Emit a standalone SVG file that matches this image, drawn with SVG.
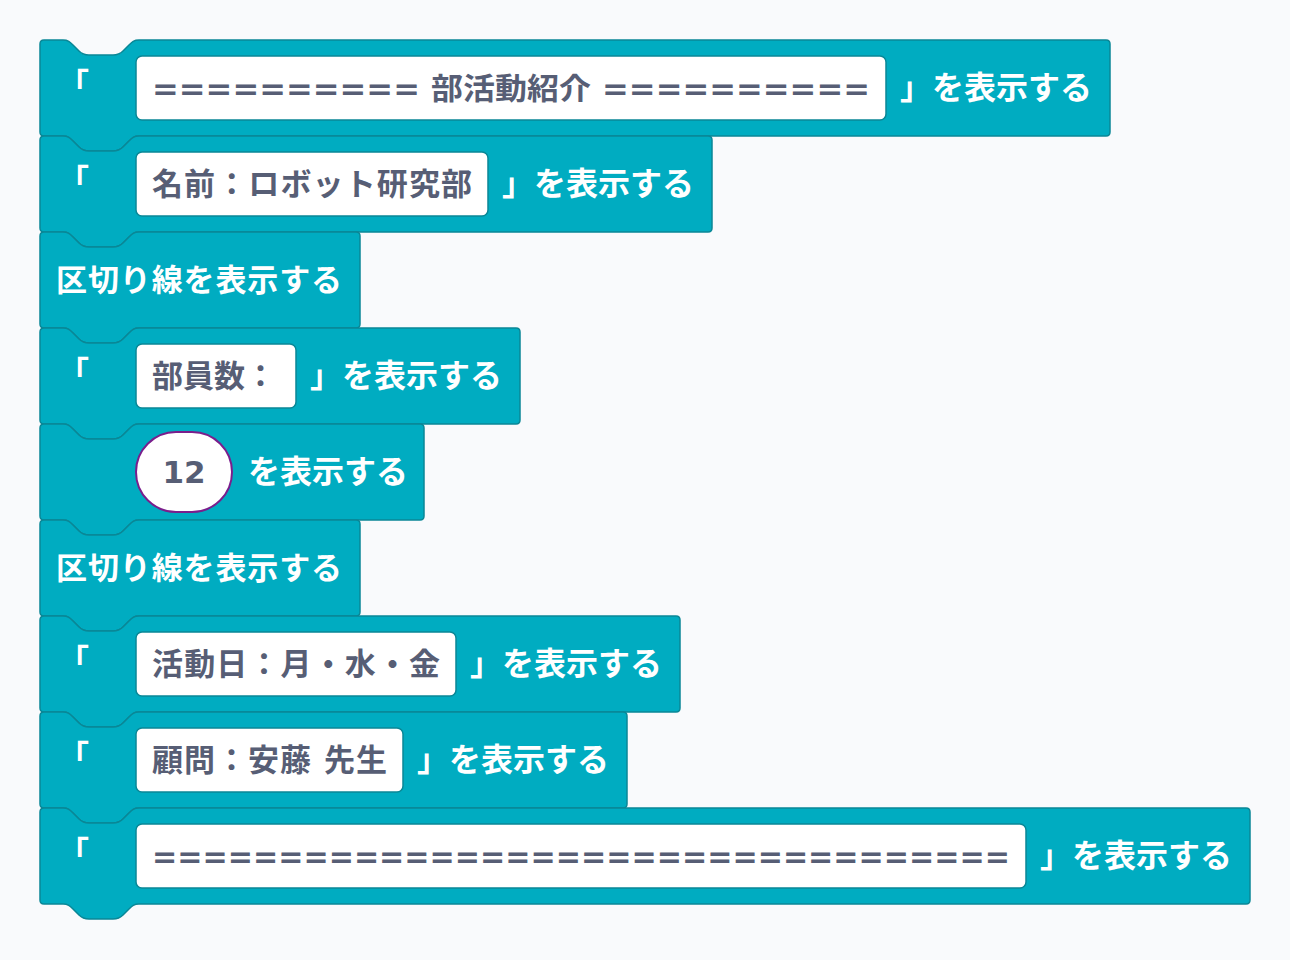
<svg xmlns="http://www.w3.org/2000/svg" width="1290" height="960" viewBox="0 0 1290 960">
<style>
.b{fill:#00ACC1;stroke:#0A8796;stroke-width:1.5}
.in{fill:#fff;stroke:#0A8796;stroke-width:1.5}
.t{font-family:"DejaVu Sans","Noto Sans CJK JP",sans-serif;font-weight:bold;font-size:31px}
.s{font-size:32px}
.w{fill:#fff}
.d{fill:#575E75}
.e{font-size:30px}
</style>
<rect width="1290" height="960" fill="#F9FAFC"/>
<g id="connectors"></g>
<g id="b1"><path class="b" d="M40,44 Q40,40 44,40 H63 C68,40 70,42 73,45 L79,51 C82,54 84,55 89,55 H113 C118,55 120,54 123,51 L129,45 C132,42 134,40 139,40 H1106 Q1110,40 1110,44 V132 Q1110,136 1106,136 H139 C134,136 132,138 129,141 L123,147 C120,150 118,151 113,151 H89 C84,151 82,150 79,147 L73,141 C70,138 68,136 63,136 H44 Q40,136 40,132 Z"/>
<text class="t w" x="58" y="95">「</text><rect class="in" x="136" y="56" width="750" height="64" rx="6"/>
<text class="t d e" x="152" y="99" textLength="718" lengthAdjust="spacingAndGlyphs">========== 部活動紹介 ==========</text>
<text class="t w s" x="900" y="99">」を表示する</text></g>
<g id="b2"><path class="b" d="M40,140 Q40,136 44,136 H63 C68,136 70,138 73,141 L79,147 C82,150 84,151 89,151 H113 C118,151 120,150 123,147 L129,141 C132,138 134,136 139,136 H708 Q712,136 712,140 V228 Q712,232 708,232 H139 C134,232 132,234 129,237 L123,243 C120,246 118,247 113,247 H89 C84,247 82,246 79,243 L73,237 C70,234 68,232 63,232 H44 Q40,232 40,228 Z"/>
<text class="t w" x="58" y="191">「</text><rect class="in" x="136" y="152" width="352" height="64" rx="6"/>
<text class="t d" x="152" y="195" textLength="320">名前：ロボット研究部</text>
<text class="t w s" x="502" y="195">」を表示する</text></g>
<g id="b3"><path class="b" d="M40,236 Q40,232 44,232 H63 C68,232 70,234 73,237 L79,243 C82,246 84,247 89,247 H113 C118,247 120,246 123,243 L129,237 C132,234 134,232 139,232 H356 Q360,232 360,236 V324 Q360,328 356,328 H139 C134,328 132,330 129,333 L123,339 C120,342 118,343 113,343 H89 C84,343 82,342 79,339 L73,333 C70,330 68,328 63,328 H44 Q40,328 40,324 Z"/>
<text class="t w" x="56" y="291" textLength="286">区切り線を表示する</text></g>
<g id="b4"><path class="b" d="M40,332 Q40,328 44,328 H63 C68,328 70,330 73,333 L79,339 C82,342 84,343 89,343 H113 C118,343 120,342 123,339 L129,333 C132,330 134,328 139,328 H516 Q520,328 520,332 V420 Q520,424 516,424 H139 C134,424 132,426 129,429 L123,435 C120,438 118,439 113,439 H89 C84,439 82,438 79,435 L73,429 C70,426 68,424 63,424 H44 Q40,424 40,420 Z"/>
<text class="t w" x="58" y="383">「</text><rect class="in" x="136" y="344" width="160" height="64" rx="6"/>
<text class="t d" x="152" y="387">部員数：</text>
<text class="t w s" x="310" y="387">」を表示する</text></g>
<g id="b5"><path class="b" d="M40,428 Q40,424 44,424 H63 C68,424 70,426 73,429 L79,435 C82,438 84,439 89,439 H113 C118,439 120,438 123,435 L129,429 C132,426 134,424 139,424 H420 Q424,424 424,428 V516 Q424,520 420,520 H139 C134,520 132,522 129,525 L123,531 C120,534 118,535 113,535 H89 C84,535 82,534 79,531 L73,525 C70,522 68,520 63,520 H44 Q40,520 40,516 Z"/>
<rect x="136" y="432" width="96" height="80" rx="40" fill="#fff" stroke="#7A1E8C" stroke-width="2"/>
<text class="t d" x="184" y="483" text-anchor="middle">12</text>
<text class="t w s" x="248" y="483">を表示する</text></g>
<g id="b6"><path class="b" d="M40,524 Q40,520 44,520 H63 C68,520 70,522 73,525 L79,531 C82,534 84,535 89,535 H113 C118,535 120,534 123,531 L129,525 C132,522 134,520 139,520 H356 Q360,520 360,524 V612 Q360,616 356,616 H139 C134,616 132,618 129,621 L123,627 C120,630 118,631 113,631 H89 C84,631 82,630 79,627 L73,621 C70,618 68,616 63,616 H44 Q40,616 40,612 Z"/>
<text class="t w" x="56" y="579" textLength="286">区切り線を表示する</text></g>
<g id="b7"><path class="b" d="M40,620 Q40,616 44,616 H63 C68,616 70,618 73,621 L79,627 C82,630 84,631 89,631 H113 C118,631 120,630 123,627 L129,621 C132,618 134,616 139,616 H676 Q680,616 680,620 V708 Q680,712 676,712 H139 C134,712 132,714 129,717 L123,723 C120,726 118,727 113,727 H89 C84,727 82,726 79,723 L73,717 C70,714 68,712 63,712 H44 Q40,712 40,708 Z"/>
<text class="t w" x="58" y="671">「</text><rect class="in" x="136" y="632" width="320" height="64" rx="6"/>
<text class="t d" x="152" y="675" textLength="288">活動日：月・水・金</text>
<text class="t w s" x="470" y="675">」を表示する</text></g>
<g id="b8"><path class="b" d="M40,716 Q40,712 44,712 H63 C68,712 70,714 73,717 L79,723 C82,726 84,727 89,727 H113 C118,727 120,726 123,723 L129,717 C132,714 134,712 139,712 H623 Q627,712 627,716 V804 Q627,808 623,808 H139 C134,808 132,810 129,813 L123,819 C120,822 118,823 113,823 H89 C84,823 82,822 79,819 L73,813 C70,810 68,808 63,808 H44 Q40,808 40,804 Z"/>
<text class="t w" x="58" y="767">「</text><rect class="in" x="136" y="728" width="267" height="64" rx="6"/>
<text class="t d" x="152" y="771" textLength="235">顧問：安藤 先生</text>
<text class="t w s" x="417" y="771">」を表示する</text></g>
<g id="b9"><path class="b" d="M40,812 Q40,808 44,808 H63 C68,808 70,810 73,813 L79,819 C82,822 84,823 89,823 H113 C118,823 120,822 123,819 L129,813 C132,810 134,808 139,808 H1246 Q1250,808 1250,812 V900 Q1250,904 1246,904 H139 C134,904 132,906 129,909 L123,915 C120,918 118,919 113,919 H89 C84,919 82,918 79,915 L73,909 C70,906 68,904 63,904 H44 Q40,904 40,900 Z"/>
<text class="t w" x="58" y="863">「</text><rect class="in" x="136" y="824" width="890" height="64" rx="6"/>
<text class="t d e" x="152" y="867" textLength="858" lengthAdjust="spacingAndGlyphs">==================================</text>
<text class="t w s" x="1040" y="867">」を表示する</text></g>
</svg>
